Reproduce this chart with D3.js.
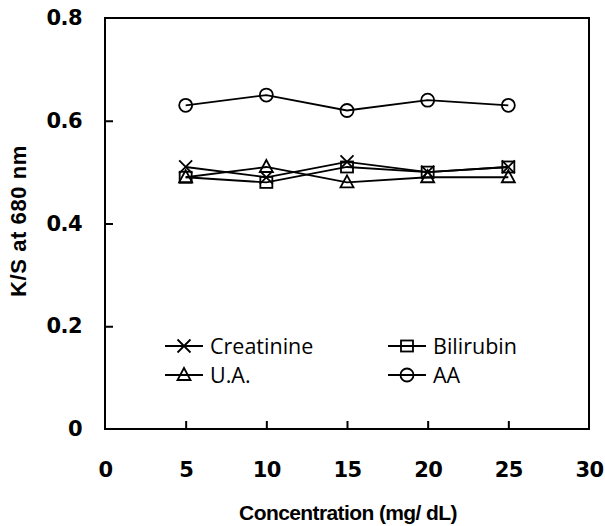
<!DOCTYPE html>
<html><head><meta charset="utf-8">
<script src="https://cdn.jsdelivr.net/npm/d3@7"></script>
<style>body{margin:0;background:#fff}svg{display:block}</style>
</head><body><svg id="c" width="605" height="526"></svg>
<script>
const concentrations = [5, 10, 15, 20, 25];
const creatinine = [0.51, 0.49, 0.52, 0.50, 0.51];
const bilirubin  = [0.49, 0.48, 0.51, 0.50, 0.51];
const ua         = [0.49, 0.51, 0.48, 0.49, 0.49];
const aa         = [0.63, 0.65, 0.62, 0.64, 0.63];
const seriesNames = ["Creatinine", "Bilirubin", "U.A.", "AA"];
const seriesSymbols = ["x", "square", "triangle", "circle"];
const xTicks = [0, 5, 10, 15, 20, 25, 30];
const yTicks = [0, 0.2, 0.4, 0.6, 0.8];
const yTickLabels = ["0", "0.2", "0.4", "0.6", "0.8"];

const series = [
  {name: seriesNames[0], sym: seriesSymbols[0], vals: creatinine},
  {name: seriesNames[1], sym: seriesSymbols[1], vals: bilirubin},
  {name: seriesNames[2], sym: seriesSymbols[2], vals: ua},
  {name: seriesNames[3], sym: seriesSymbols[3], vals: aa}
];

const svg = d3.select("#c");
const L = 105, R = 589, T = 18, B = 429;
const x = d3.scaleLinear().domain([0, 30]).range([L, R]);
const y = d3.scaleLinear().domain([0, 0.8]).range([B, T]);

// frame
svg.append("rect").attr("x", L).attr("y", T).attr("width", R - L).attr("height", B - T)
  .attr("fill", "none").attr("stroke", "#000").attr("stroke-width", 2);

// axes with inward ticks
const xAxis = svg.append("g").attr("transform", `translate(0,${B})`)
  .call(d3.axisBottom(x).tickValues(xTicks).tickSize(-8).tickPadding(33).tickFormat(d3.format("d")));
const yAxis = svg.append("g").attr("transform", `translate(${L},0)`)
  .call(d3.axisLeft(y).tickValues(yTicks).tickSize(-8).tickPadding(23).tickFormat((d, i) => yTickLabels[i]));
[xAxis, yAxis].forEach(g => {
  g.select(".domain").remove();
  g.selectAll(".tick line").attr("stroke", "#000").attr("stroke-width", 2);
  g.selectAll(".tick text").attr("fill", "#000")
    .style("font-family", "'DejaVu Sans', Verdana, sans-serif")
    .style("font-weight", "bold").style("font-size", "21px").style("letter-spacing", "-0.6px");
});
xAxis.selectAll(".tick line").filter(d => d === 0 || d === 30).remove();
yAxis.selectAll(".tick line").filter(d => d === 0 || d === 0.8).remove();

// titles
svg.append("text").attr("x", 348).attr("y", 520).attr("text-anchor", "middle")
  .style("font-family", "'Liberation Sans', Arial, sans-serif").style("font-weight", "bold")
  .style("font-size", "21px").style("letter-spacing", "-0.6px").text("Concentration (mg/ dL)");
svg.append("text").attr("transform", "translate(26,221) rotate(-90)").attr("text-anchor", "middle")
  .style("font-family", "'Liberation Sans', Arial, sans-serif").style("font-weight", "bold")
  .style("font-size", "22px").style("letter-spacing", "0.6px").text("K/S at  680 nm");

function drawSymbol(g, sym, cx, cy) {
  if (sym === "x") {
    const s = 6.5;
    g.append("path").attr("d", `M${cx - s},${cy - s}L${cx + s},${cy + s}M${cx - s},${cy + s}L${cx + s},${cy - s}`)
      .attr("stroke", "#000").attr("stroke-width", 1.8).attr("fill", "none");
  } else if (sym === "square") {
    g.append("rect").attr("x", cx - 6).attr("y", cy - 5.5).attr("width", 12).attr("height", 11)
      .attr("fill", "none").attr("stroke", "#000").attr("stroke-width", 1.8);
  } else if (sym === "triangle") {
    g.append("path").attr("d", `M${cx},${cy - 7}L${cx + 6.5},${cy + 5}L${cx - 6.5},${cy + 5}Z`)
      .attr("fill", "none").attr("stroke", "#000").attr("stroke-width", 1.8);
  } else {
    g.append("circle").attr("cx", cx).attr("cy", cy).attr("r", 6.5)
      .attr("fill", "none").attr("stroke", "#000").attr("stroke-width", 1.8);
  }
}

const line = d3.line().x((d, i) => x(concentrations[i])).y(d => y(d));
series.forEach(s => {
  const g = svg.append("g");
  g.append("path").attr("d", line(s.vals)).attr("fill", "none").attr("stroke", "#000").attr("stroke-width", 1.8);
  s.vals.forEach((v, i) => drawSymbol(g, s.sym, x(concentrations[i]), y(v)));
});

// legend
const legPos = [[165, 346], [388, 346], [165, 375], [388, 375]];
series.forEach((s, i) => {
  const [lx, ly] = legPos[i];
  const g = svg.append("g");
  g.append("line").attr("x1", lx).attr("x2", lx + 38).attr("y1", ly).attr("y2", ly)
    .attr("stroke", "#000").attr("stroke-width", 1.8);
  drawSymbol(g, s.sym, lx + 19, ly);
  g.append("text").attr("x", lx + 45).attr("y", ly + 8)
    .style("font-family", "'Open Sans', 'Noto Sans', sans-serif").style("font-size", "21.5px")
    .attr("fill", "#000").text(s.name);
});
</script></body></html>
